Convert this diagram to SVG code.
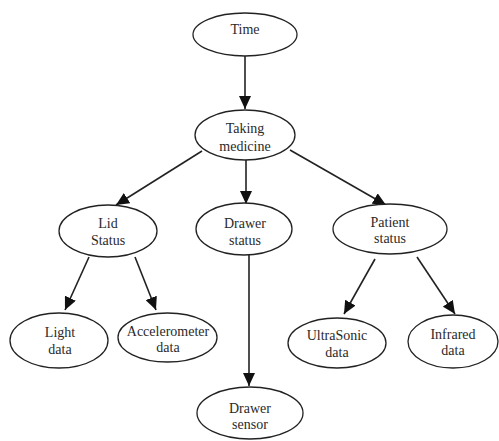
<svg xmlns="http://www.w3.org/2000/svg" width="499" height="441" viewBox="0 0 499 441">
  <style>
    .shape { fill: #ffffff; stroke: #222222; stroke-width: 1.3; }
    .lbl { font-family: "Liberation Serif", "Times New Roman", serif; font-size: 14px; fill: #2a2a2a; text-anchor: middle; }
    .edge { stroke: #222222; stroke-width: 1.6; fill: none; marker-end: url(#arrow); }
  </style>
  <defs>
    <marker id="arrow" markerUnits="userSpaceOnUse" markerWidth="14" markerHeight="12" refX="13" refY="6" orient="auto">
      <path d="M0,0 L13,6 L0,12 Z" fill="#111111"/>
    </marker>
  </defs>
  <rect width="499" height="441" fill="#ffffff"/>

  <g id="connectors">
    <line class="edge" x1="245" y1="56" x2="245" y2="109"/>
    <line class="edge" x1="202" y1="151" x2="116" y2="205"/>
    <line class="edge" x1="246" y1="160" x2="246" y2="204"/>
    <line class="edge" x1="290" y1="150" x2="386" y2="205"/>
    <line class="edge" x1="89" y1="257" x2="65" y2="310"/>
    <line class="edge" x1="135" y1="257" x2="156" y2="310"/>
    <line class="edge" x1="249" y1="255" x2="249" y2="386"/>
    <line class="edge" x1="375" y1="259" x2="344" y2="314"/>
    <line class="edge" x1="417" y1="257" x2="455" y2="314"/>
  </g>

  <g id="time">
    <ellipse class="shape" cx="245" cy="34.5" rx="52" ry="21.5"/>
    <text class="lbl" x="245" y="34">Time</text>
  </g>
  <g id="taking-medicine">
    <ellipse class="shape" cx="245" cy="135" rx="50" ry="25"/>
    <text class="lbl" x="245" y="133">Taking</text>
    <text class="lbl" x="245" y="151">medicine</text>
  </g>
  <g id="lid-status">
    <ellipse class="shape" cx="108" cy="231" rx="49" ry="26"/>
    <text class="lbl" x="108" y="228">Lid</text>
    <text class="lbl" x="108" y="245">Status</text>
  </g>
  <g id="drawer-status">
    <ellipse class="shape" cx="244" cy="229" rx="48" ry="26"/>
    <text class="lbl" x="245" y="228">Drawer</text>
    <text class="lbl" x="245" y="245">status</text>
  </g>
  <g id="patient-status">
    <ellipse class="shape" cx="390" cy="229" rx="57" ry="25"/>
    <text class="lbl" x="390" y="227">Patient</text>
    <text class="lbl" x="390" y="243">status</text>
  </g>
  <g id="light-data">
    <ellipse class="shape" cx="59" cy="340.5" rx="49" ry="27.5"/>
    <text class="lbl" x="60" y="337">Light</text>
    <text class="lbl" x="60" y="354">data</text>
  </g>
  <g id="accelerometer-data">
    <ellipse class="shape" cx="167.5" cy="337.5" rx="49.5" ry="24.5"/>
    <text class="lbl" x="168" y="336">Accelerometer</text>
    <text class="lbl" x="168" y="352">data</text>
  </g>
  <g id="ultrasonic-data">
    <ellipse class="shape" cx="337" cy="343" rx="49" ry="25"/>
    <text class="lbl" x="337" y="340">UltraSonic</text>
    <text class="lbl" x="337" y="357">data</text>
  </g>
  <g id="infrared-data">
    <ellipse class="shape" cx="453" cy="341.5" rx="45" ry="26.5"/>
    <text class="lbl" x="453" y="339">Infrared</text>
    <text class="lbl" x="453" y="355">data</text>
  </g>
  <g id="drawer-sensor">
    <ellipse class="shape" cx="250" cy="413" rx="53" ry="26"/>
    <text class="lbl" x="250" y="413">Drawer</text>
    <text class="lbl" x="250" y="429">sensor</text>
  </g>
</svg>
